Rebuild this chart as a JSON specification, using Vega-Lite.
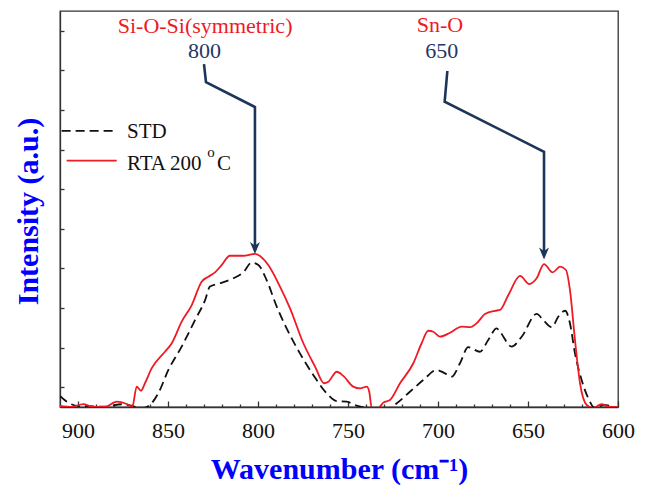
{
  "$schema": "https://vega.github.io/schema/vega-lite/v6.json",
  "width": 558,
  "height": 396,
  "autosize": {"type": "none"},
  "padding": {"left": 60, "top": 11, "right": 28, "bottom": 79},
  "background": "white",
  "config": {"view": {"stroke": "#333333", "strokeWidth": 1.3}, "font": "Liberation Serif"},
  "datasets": {
    "std": [
      {"w":910,"i":0.56},{"w":905.4,"i":0.22},{"w":899.8,"i":0.05},{"w":885,"i":0.02},{"w":875.7,"i":0.14},{"w":863.7,"i":-0.05},{"w":859.1,"i":0.19},{"w":855.4,"i":0.69},{"w":849.8,"i":1.87},{"w":842.4,"i":3.05},{"w":835,"i":4.39},{"w":829.4,"i":5.40},{"w":826.7,"i":6.08},{"w":821.1,"i":6.25},{"w":813.7,"i":6.50},{"w":808.2,"i":6.80},{"w":803.5,"i":7.29},{"w":799.8,"i":7.17},{"w":795.2,"i":6.41},{"w":789.6,"i":5.07},{"w":784.1,"i":3.97},{"w":776.7,"i":2.71},{"w":769.3,"i":1.62},{"w":761.8,"i":0.69},{"w":756.3,"i":0.30},{"w":750.7,"i":0.27},{"w":745.2,"i":0.07},{"w":737.8,"i":-0.05},{"w":726.7,"i":-0.05},{"w":722.9,"i":0.19},{"w":715.6,"i":0.77},{"w":708.2,"i":1.36},{"w":700.7,"i":1.87},{"w":696.1,"i":1.70},{"w":692.4,"i":1.53},{"w":687.8,"i":2.21},{"w":683.2,"i":3.02},{"w":676.7,"i":2.79},{"w":672.1,"i":3.38},{"w":667.4,"i":3.97},{"w":665.6,"i":3.80},{"w":659.1,"i":3.05},{"w":653.5,"i":3.55},{"w":645.2,"i":4.70},{"w":641.5,"i":4.39},{"w":636.8,"i":4.03},{"w":633.2,"i":4.56},{"w":629.4,"i":4.86},{"w":626.7,"i":4.23},{"w":623.9,"i":2.71},{"w":620.2,"i":1.36},{"w":616.5,"i":0.44},{"w":612.8,"i":-0.05},{"w":608.2,"i":0.10},{"w":600,"i":-0.05}
    ],
    "rta": [
      {"w":910,"i":0.05},{"w":903.5,"i":0},{"w":897.1,"i":0.15},{"w":892.4,"i":0.02},{"w":885,"i":0},{"w":878.5,"i":0.27},{"w":872.9,"i":0.15},{"w":869.8,"i":0.02},{"w":867.4,"i":1.03},{"w":865,"i":0.82},{"w":862.8,"i":1.20},{"w":859.1,"i":1.95},{"w":851.7,"i":2.79},{"w":847.9,"i":3.22},{"w":842.4,"i":4.31},{"w":836.8,"i":5.15},{"w":831.3,"i":6.33},{"w":827.6,"i":6.58},{"w":823.9,"i":6.80},{"w":820.2,"i":7.17},{"w":815.6,"i":7.64},{"w":808.2,"i":7.64},{"w":801.7,"i":7.73},{"w":794.3,"i":7.17},{"w":787.8,"i":6.08},{"w":782.2,"i":4.98},{"w":774.8,"i":3.22},{"w":768.3,"i":2.04},{"w":763.3,"i":1.20},{"w":760.9,"i":1.28},{"w":756.3,"i":1.78},{"w":752.6,"i":1.57},{"w":747.1,"i":1.03},{"w":743.3,"i":0.94},{"w":739.6,"i":1.03},{"w":738.2,"i":0.77},{"w":736.8,"i":-0.05},{"w":733.2,"i":-0.05},{"w":730.4,"i":0.22},{"w":726.7,"i":0.35},{"w":721.1,"i":1.20},{"w":713.7,"i":2.21},{"w":709.1,"i":3.22},{"w":705.4,"i":3.85},{"w":702.6,"i":3.80},{"w":698.9,"i":3.55},{"w":693.3,"i":3.75},{"w":686.8,"i":4.06},{"w":682.2,"i":4.03},{"w":678.5,"i":4.23},{"w":673.9,"i":4.70},{"w":668.3,"i":4.86},{"w":665.6,"i":4.90},{"w":660.9,"i":5.66},{"w":654.4,"i":6.62},{"w":649.3,"i":6.21},{"w":645.2,"i":6.50},{"w":641.1,"i":7.22},{"w":636.3,"i":6.80},{"w":632.2,"i":7.09},{"w":628.9,"i":6.92},{"w":626.7,"i":5.91},{"w":623.9,"i":3.38},{"w":621.1,"i":1.20},{"w":617.4,"i":0.10},{"w":613.7,"i":-0.05},{"w":609.1,"i":0.14},{"w":605.4,"i":0.02},{"w":600,"i":0}
    ],
    "arrows": [
      {"a":"1","k":0,"w":830,"i":17.32},{"a":"1","k":1,"w":828.9,"i":16.41},{"a":"1","k":2,"w":801.7,"i":15.15},{"a":"1","k":3,"w":801.7,"i":8.1},
      {"a":"2","k":0,"w":694.8,"i":16.97},{"a":"2","k":1,"w":696.3,"i":15.42},{"a":"2","k":2,"w":641.1,"i":12.89},{"a":"2","k":3,"w":641.1,"i":7.85}
    ],
    "heads": [{"w":801.7,"i":8.03},{"w":641.1,"i":7.75}],
    "bands": [{"t":"Si-O-Si(symmetric)","w":829.4,"i":18.87},{"t":"Sn-O","w":698.9,"i":18.95}],
    "peaks": [{"t":"800","w":829.7,"i":17.61},{"t":"650","w":697.9,"i":17.61}],
    "legStd": [{"w":909.1,"w2":879.4,"i":13.95}],
    "legRta": [{"w":906.3,"w2":878.5,"i":12.44}],
    "legText": [{"t":"STD","w":872.8,"i":13.57},{"t":"RTA 200","w":872.8,"i":11.97},{"t":"C","w":822.8,"i":11.97}],
    "legSup": [{"t":"o","w":826.1,"i":12.64}]
  },
  "layer": [
    {
      "data": {"name": "std"},
      "mark": {"type": "line", "interpolate": "monotone", "color": "#111111", "strokeDash": [9, 5], "strokeWidth": 1.8, "clip": true},
      "encoding": {
        "x": {"field": "w", "type": "quantitative",
          "scale": {"domain": [600, 910], "reverse": true, "nice": false, "zero": false},
          "axis": {"orient": "bottom", "values": [600, 650, 700, 750, 800, 850, 900], "tickSize": -6, "tickWidth": 1.3, "tickColor": "#333333",
            "domainColor": "#333333", "domainWidth": 1.3, "labelFont": "Liberation Serif", "labelFontSize": 22, "labelColor": "#111111",
            "labelPadding": 19, "labelFlush": false, "labelOverlap": false, "grid": false,
            "title": "Wavenumber (cm⁻¹)", "titleFont": "Liberation Serif", "titleFontSize": 30, "titleFontWeight": "bold", "titleColor": "#0000ff",
            "titleBaseline": "alphabetic", "titleY": 71}},
        "y": {"field": "i", "type": "quantitative",
          "scale": {"domain": [0, 20], "nice": false, "zero": false},
          "axis": {"values": [1,2,3,4,5,6,7,8,9,10,11,12,13,14,15,16,17,18,19], "tickSize": -4, "tickWidth": 1.3, "tickColor": "#333333", "labels": false,
            "domainColor": "#333333", "domainWidth": 1.3, "grid": false,
            "title": "Intensity (a.u.)", "titleFont": "Liberation Serif", "titleFontSize": 30, "titleFontWeight": "bold", "titleColor": "#0000ff",
            "titleBaseline": "alphabetic", "titleAngle": -90, "titleX": -23, "titleY": 200}}
      }
    },
    {
      "data": {"name": "rta"},
      "mark": {"type": "line", "interpolate": "monotone", "color": "#ee1b24", "strokeWidth": 1.8, "clip": true},
      "encoding": {
        "x": {"field": "w", "type": "quantitative",
          "axis": {"orient": "bottom", "values": [610,620,630,640,660,670,680,690,710,720,730,740,760,770,780,790,810,820,830,840,860,870,880,890],
            "tickSize": -3, "tickWidth": 1.3, "tickColor": "#333333", "labels": false, "domain": false, "grid": false, "title": null}},
        "y": {"field": "i", "type": "quantitative"}
      }
    },
    {
      "data": {"name": "arrows"},
      "mark": {"type": "line", "color": "#1c3558", "strokeWidth": 2.6, "strokeJoin": "miter"},
      "encoding": {
        "x": {"field": "w", "type": "quantitative", "axis": null},
        "y": {"field": "i", "type": "quantitative"},
        "detail": {"field": "a"},
        "order": {"field": "k", "type": "quantitative"}
      }
    },
    {
      "data": {"name": "heads"},
      "mark": {"type": "point", "shape": "M0,1.2 L-1,-1.2 L0,-0.5 L1,-1.2 Z", "filled": true, "size": 100, "color": "#1c3558", "opacity": 1},
      "encoding": {
        "x": {"field": "w", "type": "quantitative", "axis": null},
        "y": {"field": "i", "type": "quantitative"}
      }
    },
    {
      "data": {"name": "bands"},
      "mark": {"type": "text", "font": "Liberation Serif", "fontSize": 22, "color": "#ee1b24", "align": "center", "baseline": "alphabetic"},
      "encoding": {
        "x": {"field": "w", "type": "quantitative", "axis": null},
        "y": {"field": "i", "type": "quantitative"},
        "text": {"field": "t"}
      }
    },
    {
      "data": {"name": "peaks"},
      "mark": {"type": "text", "font": "Liberation Serif", "fontSize": 22, "color": "#1f3864", "align": "center", "baseline": "alphabetic"},
      "encoding": {
        "x": {"field": "w", "type": "quantitative", "axis": null},
        "y": {"field": "i", "type": "quantitative"},
        "text": {"field": "t"}
      }
    },
    {
      "data": {"name": "legStd"},
      "mark": {"type": "rule", "color": "#111111", "strokeDash": [9, 5], "strokeWidth": 1.8},
      "encoding": {
        "x": {"field": "w", "type": "quantitative", "axis": null},
        "x2": {"field": "w2"},
        "y": {"field": "i", "type": "quantitative"}
      }
    },
    {
      "data": {"name": "legRta"},
      "mark": {"type": "rule", "color": "#ee1b24", "strokeWidth": 1.8},
      "encoding": {
        "x": {"field": "w", "type": "quantitative", "axis": null},
        "x2": {"field": "w2"},
        "y": {"field": "i", "type": "quantitative"}
      }
    },
    {
      "data": {"name": "legText"},
      "mark": {"type": "text", "font": "Liberation Serif", "fontSize": 21, "color": "#111111", "align": "left", "baseline": "alphabetic"},
      "encoding": {
        "x": {"field": "w", "type": "quantitative", "axis": null},
        "y": {"field": "i", "type": "quantitative"},
        "text": {"field": "t"}
      }
    },
    {
      "data": {"name": "legSup"},
      "mark": {"type": "text", "font": "Liberation Serif", "fontSize": 15, "color": "#111111", "align": "center", "baseline": "alphabetic"},
      "encoding": {
        "x": {"field": "w", "type": "quantitative", "axis": null},
        "y": {"field": "i", "type": "quantitative"},
        "text": {"field": "t"}
      }
    }
  ],
  "resolve": {"axis": {"x": "independent"}}
}
